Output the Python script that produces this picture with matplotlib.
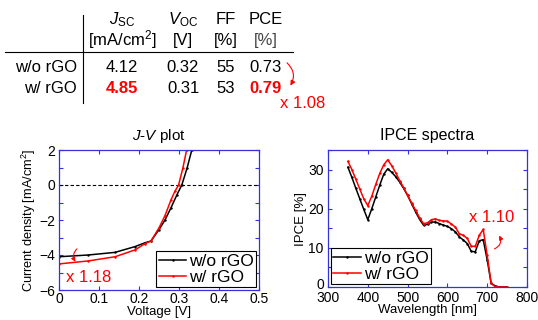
import matplotlib
matplotlib.use("Agg")
import matplotlib.pyplot as plt
import matplotlib.transforms as mtransforms
from matplotlib.patches import FancyArrowPatch
from matplotlib.lines import Line2D

plt.rcParams['font.family'] = ['Liberation Sans', 'DejaVu Sans']
plt.rcParams['mathtext.fontset'] = 'custom'
plt.rcParams['mathtext.rm'] = 'Liberation Sans'
plt.rcParams['mathtext.it'] = 'Liberation Sans:italic'
plt.rcParams['mathtext.bf'] = 'Liberation Sans:bold'

# ---------------- data ----------------
row_labels = ["w/o rGO", "w/ rGO"]
col_heads = [r"$J_{\mathrm{SC}}$", r"$V_{\mathrm{OC}}$", "FF", "PCE"]
col_units = [r"[mA/cm$^2$]", "[V]", "[%]", "[%]"]
table_vals = [["4.12", "0.32", "55", "0.73"],
              ["4.85", "0.31", "53", "0.79"]]
highlight = [(1, 0), (1, 3)]

jv_v_wo = [0.0, 0.073, 0.14, 0.19, 0.215, 0.23, 0.25, 0.265, 0.28, 0.295, 0.307, 0.32, 0.332]
jv_j_wo = [-4.10, -4.00, -3.85, -3.52, -3.30, -3.20, -2.55, -2.00, -1.30, -0.55, 0.0, 0.95, 2.0]
jv_v_w = [0.0, 0.073, 0.14, 0.19, 0.215, 0.23, 0.25, 0.265, 0.28, 0.29, 0.299, 0.31, 0.319]
jv_j_w = [-4.51, -4.34, -4.10, -3.71, -3.35, -3.20, -2.45, -1.75, -0.85, -0.35, 0.0, 1.0, 2.0]

wl = [350, 360, 370, 380, 390, 400, 410, 420, 430, 440, 450, 460, 470, 480, 490,
      500, 510, 520, 530, 540, 550, 560, 570, 580, 590, 600, 610, 620, 630, 640,
      650, 660, 670, 680, 690, 700, 710, 720, 730, 740, 750]
ipce_wo = [30.6, 28.0, 25.2, 22.5, 19.8, 17.2, 20.0, 23.0, 26.0, 28.8, 30.2, 29.3, 28.2, 26.8, 25.2,
           23.4, 21.3, 19.2, 17.3, 15.8, 16.0, 16.6, 16.6, 16.2, 15.8, 15.5, 14.9, 14.1, 12.8, 12.0,
           11.1, 9.1, 9.0, 11.8, 12.1, 6.9, 0.9, 0.3, 0.0, 0.0, 0.0]
ipce_w = [32.1, 30.0, 27.5, 25.0, 22.5, 20.8, 23.2, 26.2, 29.0, 31.2, 32.5, 31.0, 29.2, 27.2, 25.4,
          23.4, 21.5, 19.6, 17.7, 16.2, 16.4, 17.2, 17.4, 17.0, 16.9, 16.8, 16.1, 15.3, 13.6, 13.2,
          12.4, 10.4, 10.4, 13.2, 14.7, 8.1, 0.9, 0.1, 0.0, 0.0, 0.0]

W, H = 538, 320
fig = plt.figure(figsize=(W / 100, H / 100), dpi=100)

def P(x, y):
    return (x / W, 1 - y / H)

TFS = 12
# ---------------- table ----------------
col_x = [122, 183, 226, 266]
for cx, head, unit in zip(col_x, col_heads, col_units):
    fig.text(*P(cx, 24), head, ha='center', va='baseline', fontsize=TFS)
    fig.text(*P(cx, 45), unit, ha='center', va='baseline', fontsize=TFS,
             color='#444444' if head == "PCE" else 'black')
row_y = [72, 93]
for r, (lab, ry) in enumerate(zip(row_labels, row_y)):
    fig.text(*P(77, ry), lab, ha='right', va='baseline', fontsize=TFS)
    for c, cx in enumerate(col_x):
        hl = (r, c) in highlight
        fig.text(*P(cx, ry), table_vals[r][c], ha='center', va='baseline', fontsize=TFS,
                 color='red' if hl else 'black', fontweight='bold' if hl else 'normal')
fig.add_artist(Line2D([5 / W, 293 / W], [1 - 52 / H] * 2, color='black', lw=0.8))
fig.add_artist(Line2D([83 / W] * 2, [1 - 15 / H, 1 - 103 / H], color='black', lw=0.8))
fig.text(*P(303, 103), "x 1.08", ha='center', va='center', fontsize=TFS, color='red')
fig.add_artist(FancyArrowPatch(P(285, 61), P(289, 88), transform=fig.transFigure,
                               connectionstyle="arc3,rad=-0.45", arrowstyle='-|>',
                               mutation_scale=7, color='red', lw=0.8))

BLUE = '#3333dd'
TICKFS = 10
LABFS = 9.5

def style_ax(ax, xpad=1.5, ypad=2.5):
    for s in ax.spines.values():
        s.set_color(BLUE)
        s.set_linewidth(0.9)
    ax.tick_params(which='both', direction='in', top=True, right=True, color=BLUE,
                   labelcolor='black', labelsize=TICKFS, length=3, width=0.8)
    ax.tick_params(axis='x', pad=xpad)
    ax.tick_params(axis='y', pad=ypad)

def add_legend(ax, loc):
    leg = ax.legend(loc=loc, fontsize=12.5, frameon=True, fancybox=False,
                    edgecolor='black', framealpha=1, handlelength=1.6, handletextpad=0.15,
                    borderpad=0.15, labelspacing=0.05, borderaxespad=0.15)
    leg.get_frame().set_linewidth(0.8)
    return leg

# ---------------- J-V ----------------
ax1 = fig.add_axes([59 / W, 1 - 290 / H, 200 / W, 140 / H])
ax1.axhline(0, color='black', lw=0.8, ls=(0, (3, 2)))
ax1.plot(jv_v_wo, jv_j_wo, color='black', lw=1.1, marker='.', ms=1.5, label="w/o rGO")
ax1.plot(jv_v_w, jv_j_w, color='red', lw=1.1, marker='.', ms=1.5, label="w/ rGO")
ax1.set_xlim(0, 0.5)
ax1.set_ylim(-6, 2)
ax1.set_xticks([0, 0.1, 0.2, 0.3, 0.4, 0.5])
ax1.set_xticklabels(["0", "0.1", "0.2", "0.3", "0.4", "0.5"])
ax1.set_yticks([-6, -5, -4, -3, -2, -1, 0, 1, 2])
ax1.set_yticklabels(["\u22126", "", "\u22124", "", "\u22122", "", "0", "", "2"])
style_ax(ax1)
ax1.set_xlabel("Voltage [V]", fontsize=LABFS, labelpad=0)
ax1.set_ylabel("Current density [mA/cm$^2$]", fontsize=9.2, labelpad=1)
ax1.set_title(r"$J$-$V$ plot", fontsize=11, pad=7)
add_legend(ax1, 'lower right')
fig.text(*P(89, 278), "x 1.18", ha='center', va='center', fontsize=12, color='red')
fig.add_artist(FancyArrowPatch(P(79, 247), P(77, 264), transform=fig.transFigure,
                               connectionstyle="arc3,rad=0.5", arrowstyle='-|>',
                               mutation_scale=6, color='red', lw=0.8))

# ---------------- IPCE ----------------
ax2 = fig.add_axes([328 / W, 1 - 287 / H, 199 / W, 137 / H])
ax2.plot(wl, ipce_wo, color='black', lw=1.1, marker='.', ms=1.5, label="w/o rGO")
ax2.plot(wl, ipce_w, color='red', lw=1.1, marker='.', ms=1.5, label="w/ rGO")
ax2.set_xlim(300, 800)
ax2.set_ylim(0, 35)
ax2.set_xticks([300, 400, 500, 600, 700, 800])
ax2.set_yticks([0, 5, 10, 15, 20, 25, 30, 35])
ax2.set_yticklabels(["0", "", "10", "", "20", "", "30", ""])
style_ax(ax2, xpad=3, ypad=3)
ax2.set_xlabel("Wavelength [nm]", fontsize=LABFS, labelpad=-1)
ax2.set_ylabel("IPCE [%]", fontsize=LABFS, labelpad=1)
ax2.set_title("IPCE spectra", fontsize=11.5, pad=7)
add_legend(ax2, 'lower left')
# nudge the "0" y label up slightly so it does not collide with "300"
lab0 = ax2.get_yticklabels()[0]
lab0.set_transform(lab0.get_transform() +
                   mtransforms.ScaledTranslation(0, 2.5 / 72, fig.dpi_scale_trans))
fig.text(*P(492, 217), "x 1.10", ha='center', va='center', fontsize=12, color='red')
fig.add_artist(FancyArrowPatch(P(492, 250), P(498, 233), transform=fig.transFigure,
                               connectionstyle="arc3,rad=0.6", arrowstyle='-|>',
                               mutation_scale=6, color='red', lw=0.8))

fig.savefig("out.png", dpi=100)
